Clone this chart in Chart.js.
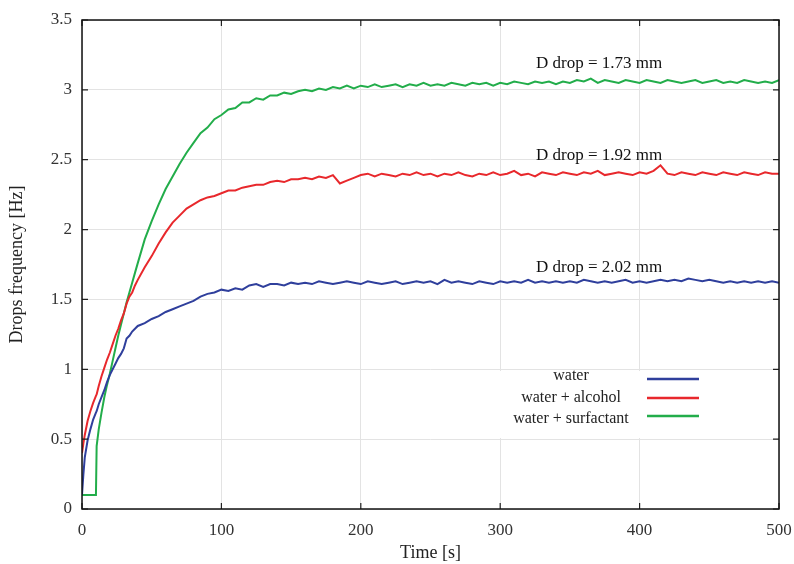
<!DOCTYPE html>
<html>
<head>
<meta charset="utf-8">
<script src="https://cdn.jsdelivr.net/npm/chart.js@4"></script>
<style>
  html, body { margin: 0; padding: 0; background: #fff; }
  #wrap { width: 794px; height: 564px; }
</style>
</head>
<body>
<div id="wrap"><canvas id="chart" width="794" height="564"></canvas></div>
<script>
// Time axis [s]
const time = [0, 1, 2, 4, 6, 8, 10, 10.5, 12, 14, 16, 18, 20, 22, 24, 26, 28, 30, 32, 34, 36, 38, 40,
  45, 50, 55, 60, 65, 70, 75, 80, 85, 90,
  95, 100, 105, 110, 115, 120, 125, 130, 135, 140,
  145, 150, 155, 160, 165, 170, 175, 180, 185, 190,
  195, 200, 205, 210, 215, 220, 225, 230, 235, 240,
  245, 250, 255, 260, 265, 270, 275, 280, 285, 290,
  295, 300, 305, 310, 315, 320, 325, 330, 335, 340,
  345, 350, 355, 360, 365, 370, 375, 380, 385, 390,
  395, 400, 405, 410, 415, 420, 425, 430, 435, 440,
  445, 450, 455, 460, 465, 470, 475, 480, 485, 490,
  495, 500];

// Drops frequency [Hz]
const water = [0.10, 0.25, 0.37, 0.49, 0.57, 0.64, 0.69, 0.70, 0.75, 0.80, 0.85, 0.91, 0.96, 1.00, 1.04, 1.08, 1.11, 1.15, 1.22, 1.24, 1.27, 1.29, 1.31,
  1.33, 1.36, 1.38, 1.41, 1.43, 1.45, 1.47, 1.49, 1.52, 1.54,
  1.55, 1.57, 1.56, 1.58, 1.57, 1.60, 1.61, 1.59, 1.61, 1.61,
  1.60, 1.62, 1.61, 1.62, 1.61, 1.63, 1.62, 1.61, 1.62, 1.63,
  1.62, 1.61, 1.63, 1.62, 1.61, 1.62, 1.63, 1.61, 1.62, 1.63,
  1.62, 1.63, 1.61, 1.64, 1.62, 1.63, 1.62, 1.61, 1.63, 1.62,
  1.61, 1.63, 1.62, 1.63, 1.62, 1.64, 1.62, 1.63, 1.62, 1.63,
  1.62, 1.63, 1.62, 1.64, 1.63, 1.62, 1.63, 1.62, 1.63, 1.64,
  1.62, 1.63, 1.62, 1.63, 1.64, 1.63, 1.64, 1.63, 1.65, 1.64,
  1.63, 1.64, 1.63, 1.62, 1.63, 1.62, 1.63, 1.62, 1.63, 1.62,
  1.63, 1.62];

const waterAlcohol = [0.40, 0.47, 0.53, 0.63, 0.70, 0.76, 0.81, 0.82, 0.88, 0.95, 1.01, 1.07, 1.12, 1.18, 1.24, 1.29, 1.35, 1.40, 1.47, 1.52, 1.55, 1.60, 1.64,
  1.73, 1.81, 1.90, 1.98, 2.05, 2.10, 2.15, 2.18, 2.21, 2.23,
  2.24, 2.26, 2.28, 2.28, 2.30, 2.31, 2.32, 2.32, 2.34, 2.35,
  2.34, 2.36, 2.36, 2.37, 2.36, 2.38, 2.37, 2.39, 2.33, 2.35,
  2.37, 2.39, 2.40, 2.38, 2.40, 2.39, 2.38, 2.40, 2.39, 2.41,
  2.39, 2.40, 2.38, 2.40, 2.39, 2.41, 2.39, 2.38, 2.40, 2.39,
  2.41, 2.39, 2.40, 2.42, 2.39, 2.40, 2.38, 2.41, 2.40, 2.39,
  2.41, 2.40, 2.39, 2.41, 2.40, 2.42, 2.39, 2.40, 2.41, 2.40,
  2.39, 2.41, 2.40, 2.42, 2.46, 2.40, 2.39, 2.41, 2.40, 2.39,
  2.41, 2.40, 2.39, 2.41, 2.40, 2.39, 2.41, 2.40, 2.39, 2.41,
  2.40, 2.40];

const waterSurfactant = [0.10, 0.10, 0.10, 0.10, 0.10, 0.10, 0.10, 0.45, 0.57, 0.69, 0.80, 0.89, 0.97, 1.06, 1.15, 1.24, 1.32, 1.40, 1.48, 1.55, 1.62, 1.69, 1.76,
  1.93, 2.06, 2.18, 2.29, 2.38, 2.47, 2.55, 2.62, 2.69, 2.73,
  2.79, 2.82, 2.86, 2.87, 2.91, 2.91, 2.94, 2.93, 2.96, 2.96,
  2.98, 2.97, 2.99, 3.00, 2.99, 3.01, 3.00, 3.02, 3.01, 3.03,
  3.01, 3.03, 3.02, 3.04, 3.02, 3.03, 3.04, 3.02, 3.04, 3.03,
  3.05, 3.03, 3.04, 3.03, 3.05, 3.04, 3.03, 3.05, 3.04, 3.05,
  3.03, 3.05, 3.04, 3.06, 3.05, 3.04, 3.06, 3.05, 3.06, 3.04,
  3.06, 3.05, 3.07, 3.06, 3.08, 3.05, 3.07, 3.06, 3.05, 3.07,
  3.06, 3.05, 3.07, 3.06, 3.05, 3.07, 3.06, 3.05, 3.06, 3.07,
  3.05, 3.06, 3.07, 3.05, 3.06, 3.05, 3.07, 3.06, 3.05, 3.06,
  3.05, 3.07];

const seriesNames = ['water', 'water + alcohol', 'water + surfactant'];
const seriesColors = ['#2f3f9c', '#e8282c', '#22ad4a'];

const xTicks = [0, 100, 200, 300, 400, 500];
const yTicks = [0, 0.5, 1, 1.5, 2, 2.5, 3, 3.5];

const dropLabels = ['D drop = 1.73 mm', 'D drop = 1.92 mm', 'D drop = 2.02 mm'];
const dropLabelX = [371, 371, 371];
const dropLabelY = [3.19, 2.53, 1.73];

const FONT = "'Liberation Serif', 'DejaVu Serif', serif";

const toPoints = vals => vals.map((v, i) => ({ x: time[i], y: v }));

// inward ticks, frame, annotations and legend
const decorPlugin = {
  id: 'decor',
  afterDatasetsDraw(chart) {
    const { ctx, chartArea: a, scales: { x, y } } = chart;
    ctx.save();

    // legend box
    ctx.fillStyle = '#fff';
    ctx.fillRect(490, 371, 220, 67);
    ctx.font = '16px ' + FONT;
    ctx.textAlign = 'center';
    ctx.textBaseline = 'middle';
    const rowsY = [376, 398, 419];
    const lineY = [379, 398, 416];
    seriesNames.forEach((n, i) => {
      ctx.fillStyle = '#222';
      ctx.fillText(n, 571, rowsY[i]);
      ctx.strokeStyle = seriesColors[i];
      ctx.lineWidth = 2.5;
      ctx.beginPath();
      ctx.moveTo(647, lineY[i]);
      ctx.lineTo(699, lineY[i]);
      ctx.stroke();
    });

    // annotations
    ctx.font = '17px ' + FONT;
    ctx.fillStyle = '#111';
    dropLabels.forEach((t, i) => {
      ctx.fillText(t, x.getPixelForValue(dropLabelX[i]), y.getPixelForValue(dropLabelY[i]));
    });

    // inward tick marks on all sides
    ctx.strokeStyle = '#222';
    ctx.lineWidth = 1.2;
    const L = 6;
    ctx.beginPath();
    xTicks.forEach(v => {
      const px = x.getPixelForValue(v);
      ctx.moveTo(px, a.bottom); ctx.lineTo(px, a.bottom - L);
      ctx.moveTo(px, a.top); ctx.lineTo(px, a.top + L);
    });
    yTicks.forEach(v => {
      const py = y.getPixelForValue(v);
      ctx.moveTo(a.left, py); ctx.lineTo(a.left + L, py);
      ctx.moveTo(a.right, py); ctx.lineTo(a.right - L, py);
    });
    ctx.stroke();

    // frame
    ctx.lineWidth = 1.5;
    ctx.strokeStyle = '#111';
    ctx.strokeRect(a.left, a.top, a.right - a.left, a.bottom - a.top);
    ctx.restore();
  }
};

new Chart(document.getElementById('chart'), {
  type: 'line',
  data: {
    datasets: [
      { label: seriesNames[0], data: toPoints(water), borderColor: seriesColors[0] },
      { label: seriesNames[1], data: toPoints(waterAlcohol), borderColor: seriesColors[1] },
      { label: seriesNames[2], data: toPoints(waterSurfactant), borderColor: seriesColors[2] }
    ]
  },
  options: {
    responsive: false,
    animation: false,
    layout: { padding: { top: 20, right: 15, left: 0, bottom: 0 } },
    elements: {
      point: { radius: 0 },
      line: { borderWidth: 2, tension: 0 }
    },
    plugins: { legend: { display: false }, tooltip: { enabled: false } },
    scales: {
      x: {
        type: 'linear',
        min: 0, max: 500,
        afterFit: s => { s.height = 55; s.paddingLeft = 0; s.paddingRight = 0; },
        afterBuildTicks: s => { s.ticks = xTicks.map(v => ({ value: v })); },
        grid: { color: '#e3e3e3', drawTicks: false },
        border: { display: false },
        ticks: { padding: 11, color: '#333', font: { family: FONT, size: 17 }, callback: v => String(v) },
        title: {
          display: true, text: 'Time [s]', color: '#222',
          font: { family: FONT, size: 18 }, padding: { top: 0, bottom: 0 }
        }
      },
      y: {
        min: 0, max: 3.5,
        afterFit: s => { s.width = 82; s.paddingTop = 0; s.paddingBottom = 0; },
        afterBuildTicks: s => { s.ticks = yTicks.map(v => ({ value: v })); },
        grid: { color: '#e3e3e3', drawTicks: false },
        border: { display: false },
        ticks: { padding: 10, color: '#333', font: { family: FONT, size: 17 }, callback: v => String(v) },
        title: {
          display: true, text: 'Drops frequency [Hz]', color: '#222',
          font: { family: FONT, size: 18 }, padding: { top: 6, bottom: 0 }
        }
      }
    }
  },
  plugins: [decorPlugin]
});
</script>
</body>
</html>
